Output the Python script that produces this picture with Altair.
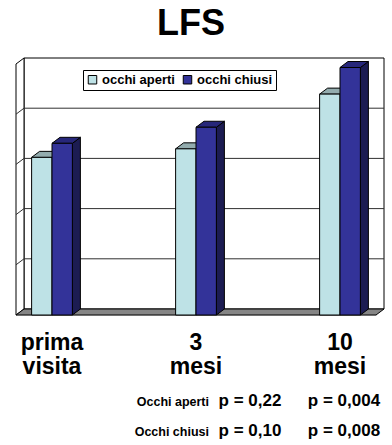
import altair as alt
import pandas as pd

# Category slots along the floor (two empty slots separate the visits)
slots = ["prima visita", "", "3 mesi", "", "10 mesi"]
categories = ["prima visita", "3 mesi", "10 mesi"]
series = ["occhi aperti", "occhi chiusi"]
aperti = [3.14, 3.31, 4.40]
chiusi = [3.42, 3.74, 4.93]

# p-value table under the chart
row_labels = ["Occhi aperti", "Occhi chiusi"]
p_3_mesi = ["p = 0,22", "p = 0,10"]
p_10_mesi = ["p = 0,004", "p = 0,008"]

front_colors = ["#BEE2E6", "#333399"]
top_colors = ["#93ACAE", "#27277A"]
side_colors = ["#70898B", "#1C1C52"]

FONT = "Liberation Sans"
W, H = 360, 251
Y_MAX = 5
DEPTH_PX = (8, 6)   # 3D extrusion of walls and bars, in pixels
BAR_FRAC = 0.283    # bar width as a fraction of one slot

n = len(slots)
dx = DEPTH_PX[0] / (W / n)
dy = DEPTH_PX[1] / (H / Y_MAX)

xs = alt.Scale(domain=[0, n], nice=False, zero=False)
ys = alt.Scale(domain=[0, Y_MAX], nice=False, zero=False)

# ---- bar geometry: front faces, top faces, side faces
fronts, tops, sides = [], [], []
for cat, a, c in zip(categories, aperti, chiusi):
    center = slots.index(cat) + 0.5
    for k, (s, v) in enumerate(zip(series, (a, c))):
        left = center - BAR_FRAC + k * BAR_FRAC
        right = left + BAR_FRAC
        bar = f"{cat}|{s}"
        fronts.append(dict(series=s, left=left, right=right, value=v, base=0))
        tops += [dict(bar=bar, fill=top_colors[k], y=v, x=left, x2=right),
                 dict(bar=bar, fill=top_colors[k], y=v + dy, x=left + dx, x2=right + dx)]
        sides += [dict(bar=bar, fill=side_colors[k], x=right, y=0, y2=v),
                  dict(bar=bar, fill=side_colors[k], x=right + dx, y=dy, y2=v + dy)]

fronts = pd.DataFrame(fronts)
tops = pd.DataFrame(tops)
sides = pd.DataFrame(sides)

x_axis = alt.Axis(values=list(range(n + 1)), labels=False, ticks=True, tickSize=4,
                  tickColor="black", domainColor="black", grid=False, title=None)
y_axis = alt.Axis(values=list(range(Y_MAX + 1)), labels=False, ticks=True, tickSize=4,
                  tickColor="black", domainColor="black", grid=False, title=None)

# ---- walls and floor
back_wall = alt.Chart(pd.DataFrame([dict(x=dx, x2=n + dx, y=dy, y2=Y_MAX + dy)])).mark_rect(
    fill="white", stroke="black", strokeWidth=1
).encode(
    x=alt.X("x:Q", scale=xs, axis=x_axis),
    x2="x2:Q",
    y=alt.Y("y:Q", scale=ys, axis=y_axis),
    y2="y2:Q",
)

left_wall = alt.Chart(pd.DataFrame([dict(x=0, y=0, y2=Y_MAX),
                                    dict(x=dx, y=dy, y2=Y_MAX + dy)])).mark_area(
    fill="white", stroke="black", strokeWidth=1
).encode(
    x=alt.X("x:Q", scale=xs, axis=None),
    y=alt.Y("y:Q", scale=ys, axis=None, stack=None),
    y2="y2:Q",
)

grid_levels = list(range(1, Y_MAX))
back_grid = alt.Chart(pd.DataFrame(dict(y=[g + dy for g in grid_levels]))).mark_rule(
    color="#303030", strokeWidth=1
).encode(
    x=alt.datum(dx, scale=xs),
    x2=alt.datum(n + dx),
    y=alt.Y("y:Q", scale=ys, axis=None),
)

side_grid = alt.Chart(pd.DataFrame(dict(y=grid_levels, y2=[g + dy for g in grid_levels]))).mark_rule(
    color="#303030", strokeWidth=1
).encode(
    x=alt.datum(0, scale=xs),
    x2=alt.datum(dx),
    y=alt.Y("y:Q", scale=ys, axis=None),
    y2="y2:Q",
)

floor = alt.Chart(pd.DataFrame([dict(y=0, x=0, x2=n),
                                dict(y=dy, x=dx, x2=n + dx)])).mark_area(
    orient="horizontal", fill="#858585", stroke="black", strokeWidth=1
).encode(
    y=alt.Y("y:Q", scale=ys, axis=None),
    x=alt.X("x:Q", scale=xs, axis=None, stack=None),
    x2="x2:Q",
)

# ---- bars
side_faces = alt.Chart(sides).mark_area(stroke="black", strokeWidth=1).encode(
    x=alt.X("x:Q", scale=xs, axis=None),
    y=alt.Y("y:Q", scale=ys, axis=None, stack=None),
    y2="y2:Q",
    fill=alt.Fill("fill:N", scale=None),
    detail="bar:N",
)

top_faces = alt.Chart(tops).mark_area(orient="horizontal", stroke="black", strokeWidth=1).encode(
    y=alt.Y("y:Q", scale=ys, axis=None),
    x=alt.X("x:Q", scale=xs, axis=None, stack=None),
    x2="x2:Q",
    fill=alt.Fill("fill:N", scale=None),
    detail="bar:N",
)

front_faces = alt.Chart(fronts).mark_rect(stroke="black", strokeWidth=1).encode(
    x=alt.X("left:Q", scale=xs, axis=None),
    x2="right:Q",
    y=alt.Y("value:Q", scale=ys, axis=None),
    y2="base:Q",
    color=alt.Color(
        "series:N",
        scale=alt.Scale(domain=series, range=front_colors),
        legend=alt.Legend(
            title=None, orient="none", legendX=67, legendY=6, direction="horizontal",
            symbolType="square", symbolSize=72, symbolStrokeColor="black",
            symbolStrokeWidth=1, symbolOpacity=1,
            labelFont=FONT, labelFontSize=13, labelFontWeight="bold", labelColor="black",
            fillColor="white", strokeColor="black", padding=3, columnPadding=6,
            labelOffset=3,
        ),
    ),
)

# ---- texts
title = alt.Chart(pd.DataFrame(dict(t=["LFS"]))).mark_text(
    font=FONT, fontSize=36, fontWeight="bold", color="black",
    align="center", baseline="alphabetic"
).encode(text="t:N", x=alt.value(175), y=alt.value(-29))

cat_labels = alt.Chart(pd.DataFrame(dict(
    label=categories, pos=[slots.index(c) + 0.5 for c in categories]
))).mark_text(
    font=FONT, fontSize=23, fontWeight="bold", color="black",
    align="center", baseline="alphabetic", lineBreak=" ", lineHeight=24
).encode(text="label:N", x=alt.X("pos:Q", scale=xs, axis=None), y=alt.value(286))

ROW_Y = [342, 372]
table = []
for i, (lab, p3, p10) in enumerate(zip(row_labels, p_3_mesi, p_10_mesi)):
    df = pd.DataFrame(dict(lab=[lab], p3=[p3], p10=[p10]))
    base = alt.Chart(df)
    table += [
        base.mark_text(font=FONT, fontSize=12.5, fontWeight="bold", color="black",
                       align="right", baseline="alphabetic")
            .encode(text="lab:N", x=alt.value(193), y=alt.value(ROW_Y[i])),
        base.mark_text(font=FONT, fontSize=17, fontWeight="bold", color="black",
                       align="center", baseline="alphabetic")
            .encode(text="p3:N", x=alt.value(234), y=alt.value(ROW_Y[i])),
        base.mark_text(font=FONT, fontSize=17, fontWeight="bold", color="black",
                       align="center", baseline="alphabetic")
            .encode(text="p10:N", x=alt.value(328), y=alt.value(ROW_Y[i])),
    ]

chart = alt.layer(
    back_wall, left_wall, back_grid, side_grid, floor,
    side_faces, top_faces, front_faces,
    title, cat_labels, *table,
).resolve_scale(
    fill="independent"
).properties(
    width=W, height=H,
    autosize=alt.AutoSizeParams(type="none"),
    padding={"left": 16, "top": 64, "right": 16, "bottom": 130},
).configure_view(stroke=None).configure(background="white")

chart.save("out.html", embed_options={"renderer": "svg", "actions": False})
